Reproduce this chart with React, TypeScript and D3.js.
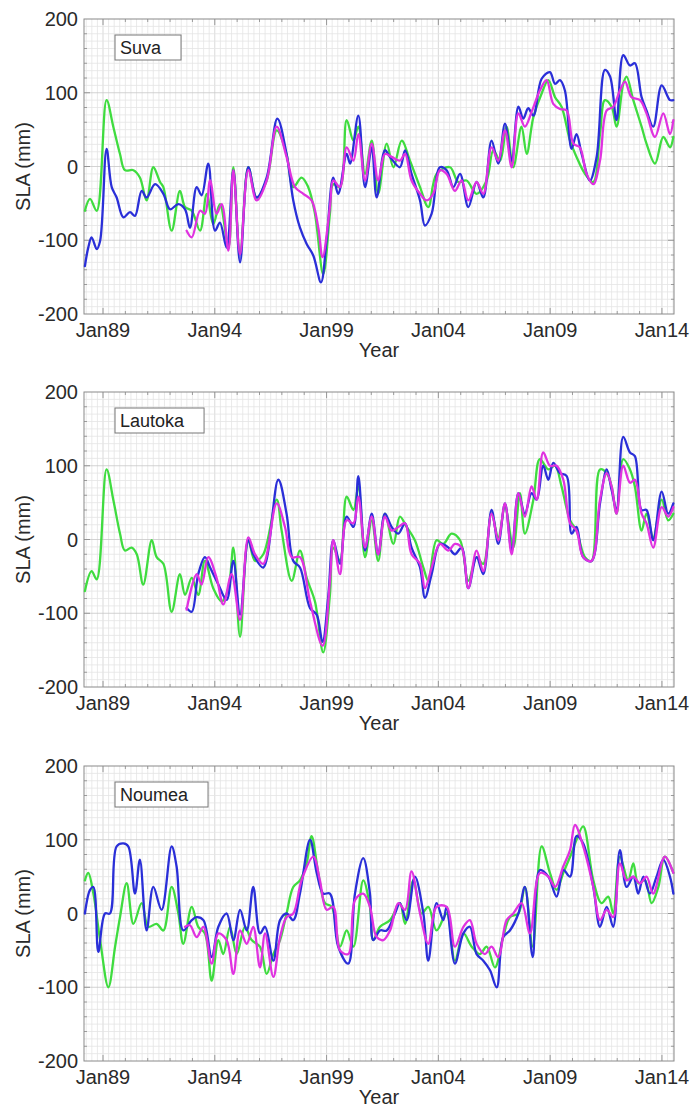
import * as d3 from 'd3';

type Pt = [number, number];

// station names and axis labels
const stations = ['Suva', 'Lautoka', 'Noumea'];
const yearTicks = [1989, 1994, 1999, 2004, 2009, 2014];
const yearLabels = ['Jan89', 'Jan94', 'Jan99', 'Jan04', 'Jan09', 'Jan14'];
const slaTicks = [-200, -100, 0, 100, 200];

// Suva
const suvaGreen: Pt[] = [
  [1988.19, -60], [1988.42, -44], [1988.72, -60], [1989.16, 90], [1989.46, 54], [1989.76, 17], [1989.98, -5],
  [1990.36, -5], [1990.65, -15], [1990.95, -46], [1991.25, -1], [1991.55, -21], [1991.7, -28], [1992.07, -87],
  [1992.44, -33], [1992.67, -55], [1992.97, -60], [1993.34, -87], [1993.64, -37], [1993.93, -78], [1994.23, -51],
  [1994.61, -110], [1994.83, -1], [1995.13, -119], [1995.5, -1], [1995.87, -42], [1996.32, -19], [1996.77, 49],
  [1997.21, 17], [1997.51, -28], [1997.88, -15], [1998.18, -28], [1998.48, -64], [1998.85, -146], [1999.15, -64],
  [1999.3, -24], [1999.6, -28], [1999.9, 63], [2000.2, 35], [2000.42, 54], [2000.72, -10], [2001.02, 35],
  [2001.31, -37], [2001.69, 31], [2001.99, -1], [2002.36, 35], [2002.73, 8], [2003.18, -28], [2003.55, -55],
  [2003.92, -10], [2004.52, -1], [2004.89, -21], [2005.26, -19], [2005.71, -37], [2006.16, -19], [2006.46, 22],
  [2006.76, 8], [2007.05, 54], [2007.35, -1], [2007.72, 54], [2007.95, 17], [2008.25, 67], [2008.62, 99],
  [2008.92, 117], [2009.22, 94], [2009.51, 81], [2009.89, 35], [2010.18, 13], [2010.56, -10], [2010.93, -21],
  [2011.23, 44], [2011.45, 90], [2011.75, 81], [2011.97, 54], [2012.27, 112], [2012.42, 122], [2012.72, 90],
  [2013.09, 54], [2013.31, 31], [2013.69, 4], [2014.06, 40], [2014.36, 26], [2014.51, 40],
];
const suvaBlue: Pt[] = [
  [1988.19, -135], [1988.34, -110], [1988.49, -96], [1988.72, -112], [1988.87, -101], [1989.16, 24], [1989.39, -28],
  [1989.61, -42], [1989.91, -69], [1990.21, -62], [1990.43, -67], [1990.73, -33], [1990.95, -42], [1991.33, -24],
  [1991.7, -37], [1992.0, -58], [1992.37, -51], [1992.67, -58], [1992.89, -83], [1993.19, -28], [1993.41, -39],
  [1993.71, 4], [1994.01, -87], [1994.23, -76], [1994.53, -110], [1994.83, -5], [1995.13, -130], [1995.5, -1],
  [1995.87, -42], [1996.32, -15], [1996.8, 65], [1997.21, 17], [1997.51, -46], [1997.81, -83], [1998.11, -105],
  [1998.41, -121], [1998.75, -157], [1999.0, -100], [1999.3, -15], [1999.52, -37], [1999.9, 17], [2000.05, 4],
  [2000.42, 69], [2000.72, -28], [2001.02, 26], [2001.24, -42], [2001.61, 22], [2001.84, 13], [2002.28, -1],
  [2002.51, 22], [2002.8, -10], [2003.18, -46], [2003.4, -80], [2003.7, -64], [2004.07, -1], [2004.37, -5],
  [2004.67, -28], [2004.97, -10], [2005.34, -55], [2005.71, -21], [2006.01, -42], [2006.38, 35], [2006.68, 4],
  [2006.98, 58], [2007.28, 8], [2007.58, 81], [2007.8, 65], [2008.02, 79], [2008.25, 69], [2008.62, 119],
  [2008.99, 128], [2009.22, 112], [2009.44, 117], [2009.66, 103], [2009.96, 24], [2010.18, 44], [2010.41, 17],
  [2010.78, -19], [2011.08, 13], [2011.45, 131], [2011.68, 122], [2011.97, 63], [2012.27, 151], [2012.57, 137],
  [2012.79, 140], [2013.09, 94], [2013.31, 76], [2013.61, 54], [2013.99, 110], [2014.36, 90], [2014.51, 90],
];
const suvaMagenta: Pt[] = [
  [1992.74, -87], [1992.97, -96], [1993.34, -60], [1993.56, -64], [1993.79, -19], [1994.08, -64], [1994.31, -51],
  [1994.61, -114], [1994.83, -5], [1995.13, -119], [1995.5, -5], [1995.87, -46], [1996.32, -19], [1996.77, 54],
  [1997.21, 13], [1997.59, -28], [1997.96, -37], [1998.33, -46], [1998.63, -83], [1998.82, -123], [1999.15, -55],
  [1999.3, -19], [1999.6, -28], [1999.9, 26], [2000.2, 8], [2000.42, 44], [2000.72, -19], [2001.02, 31],
  [2001.31, -19], [2001.61, 17], [2001.91, 13], [2002.28, 8], [2002.51, 17], [2002.8, -19], [2003.18, -37],
  [2003.48, -46], [2003.77, -37], [2004.07, -5], [2004.37, -10], [2004.74, -33], [2005.04, -19], [2005.34, -46],
  [2005.71, -21], [2006.01, -37], [2006.38, 26], [2006.68, 8], [2006.98, 49], [2007.28, -1], [2007.58, 72],
  [2007.87, 54], [2008.17, 74], [2008.54, 103], [2008.84, 117], [2009.14, 85], [2009.44, 78], [2009.74, 76],
  [2010.04, 31], [2010.33, 26], [2010.63, -10], [2010.93, -24], [2011.23, 8], [2011.53, 76], [2011.82, 81],
  [2012.12, 103], [2012.35, 115], [2012.64, 94], [2013.02, 90], [2013.31, 72], [2013.69, 40], [2014.06, 72],
  [2014.36, 44], [2014.51, 63],
];

// Lautoka
const lautokaGreen: Pt[] = [
  [1988.19, -70], [1988.49, -43], [1988.72, -54], [1989.16, 95], [1989.46, 54], [1989.76, 8], [1989.98, -15],
  [1990.28, -11], [1990.51, -20], [1990.8, -61], [1991.18, -1], [1991.4, -24], [1991.7, -33], [1992.07, -98],
  [1992.44, -47], [1992.67, -75], [1992.97, -52], [1993.26, -75], [1993.56, -29], [1993.93, -66], [1994.31, -84],
  [1994.61, -66], [1994.83, -11], [1995.13, -132], [1995.5, -1], [1995.8, -29], [1996.17, -20], [1996.77, 54],
  [1996.99, 12], [1997.44, -56], [1997.81, -15], [1998.11, -52], [1998.48, -84], [1998.85, -153], [1999.15, -75],
  [1999.3, -11], [1999.6, -29], [1999.9, 58], [2000.2, 40], [2000.42, 72], [2000.72, -24], [2001.02, 26],
  [2001.31, -29], [2001.61, 35], [2001.99, -6], [2002.28, 31], [2002.58, 17], [2002.95, -1], [2003.33, -38],
  [2003.55, -56], [2003.92, -1], [2004.22, -6], [2004.59, 8], [2004.97, -1], [2005.34, -56], [2005.71, -24],
  [2006.01, -33], [2006.38, 35], [2006.68, 3], [2006.98, 44], [2007.35, -11], [2007.65, 63], [2007.87, 8],
  [2008.25, 54], [2008.54, 109], [2008.92, 95], [2009.22, 100], [2009.51, 72], [2009.89, 26], [2010.18, 12],
  [2010.56, -24], [2010.85, -29], [2011.23, 95], [2011.53, 90], [2011.75, 72], [2011.97, 35], [2012.27, 109],
  [2012.57, 95], [2012.79, 72], [2013.09, 12], [2013.31, 35], [2013.61, 3], [2013.99, 54], [2014.28, 26],
  [2014.51, 35],
];
const lautokaBlue: Pt[] = [
  [1992.74, -93], [1992.97, -98], [1993.26, -47], [1993.56, -24], [1993.79, -38], [1994.16, -61], [1994.53, -82],
  [1994.83, -29], [1995.13, -102], [1995.5, -1], [1995.72, -20], [1996.17, -38], [1996.84, 81], [1997.21, 35],
  [1997.51, -29], [1997.81, -38], [1998.26, -93], [1998.56, -102], [1998.82, -139], [1999.08, -75], [1999.3, -1],
  [1999.6, -33], [1999.9, 31], [2000.2, 17], [2000.42, 86], [2000.72, -15], [2001.02, 35], [2001.31, -20],
  [2001.61, 35], [2001.91, 17], [2002.21, 8], [2002.51, 22], [2002.8, -11], [2003.18, -38], [2003.4, -79],
  [2003.7, -47], [2004.07, -6], [2004.45, -11], [2004.74, -20], [2005.04, -11], [2005.34, -66], [2005.71, -24],
  [2006.01, -47], [2006.38, 40], [2006.68, -6], [2006.98, 49], [2007.28, -15], [2007.58, 63], [2007.87, 35],
  [2008.17, 63], [2008.4, 54], [2008.69, 100], [2008.92, 81], [2009.14, 104], [2009.44, 90], [2009.74, 86],
  [2009.96, 8], [2010.18, 17], [2010.48, -24], [2010.85, -29], [2011.23, 49], [2011.53, 95], [2011.75, 67],
  [2011.97, 40], [2012.27, 139], [2012.57, 118], [2012.79, 113], [2013.09, 40], [2013.31, 40], [2013.61, -1],
  [2013.99, 65], [2014.28, 35], [2014.51, 49],
];
const lautokaMagenta: Pt[] = [
  [1992.74, -95], [1993.19, -47], [1993.41, -61], [1993.71, -24], [1994.08, -52], [1994.38, -88], [1994.75, -47],
  [1995.13, -109], [1995.5, 3], [1995.8, -20], [1996.17, -33], [1996.77, 49], [1997.14, 17], [1997.44, -24],
  [1997.81, -24], [1998.26, -84], [1998.82, -144], [1999.15, -56], [1999.3, -1], [1999.6, -47], [1999.9, 26],
  [2000.2, 22], [2000.42, 58], [2000.72, -11], [2001.02, 31], [2001.31, -20], [2001.61, 31], [2001.91, 12],
  [2002.21, 17], [2002.51, 22], [2002.8, -20], [2003.18, -33], [2003.4, -66], [2003.7, -38], [2004.07, -6],
  [2004.45, -15], [2004.74, -6], [2005.04, -11], [2005.34, -66], [2005.71, -15], [2006.01, -43], [2006.38, 35],
  [2006.68, -1], [2006.98, 49], [2007.28, -20], [2007.58, 63], [2007.87, 31], [2008.17, 72], [2008.4, 54],
  [2008.69, 118], [2008.99, 100], [2009.29, 100], [2009.59, 81], [2009.89, 22], [2010.18, 12], [2010.48, -24],
  [2010.85, -29], [2011.23, 54], [2011.53, 90], [2011.75, 72], [2011.97, 35], [2012.27, 100], [2012.57, 77],
  [2012.79, 81], [2013.09, 35], [2013.31, 22], [2013.61, -11], [2013.99, 44], [2014.28, 31], [2014.51, 44],
];

// Noumea
const noumeaGreen: Pt[] = [
  [1988.19, 45], [1988.34, 55], [1988.57, 27], [1988.87, -36], [1989.24, -100], [1989.54, -45], [1989.76, -5],
  [1990.06, 41], [1990.36, -14], [1990.73, 14], [1991.03, -18], [1991.4, -14], [1991.7, -23], [1992.07, 36],
  [1992.37, 0], [1992.59, -41], [1992.97, 9], [1993.26, -18], [1993.56, -27], [1993.86, -91], [1994.16, -36],
  [1994.38, -55], [1994.68, -18], [1994.98, -55], [1995.35, -18], [1995.65, -36], [1996.02, -45], [1996.32, -82],
  [1996.62, -55], [1996.92, -36], [1997.21, 0], [1997.51, 36], [1997.81, 45], [1998.11, 68], [1998.33, 105],
  [1998.63, 55], [1998.93, 14], [1999.23, 9], [1999.6, -45], [1999.9, -23], [2000.2, -45], [2000.64, 45],
  [2000.94, 9], [2001.09, -36], [2001.39, -18], [2001.84, -9], [2002.28, 14], [2002.51, -14], [2002.88, 45],
  [2003.25, 0], [2003.55, 9], [2003.92, -23], [2004.37, 0], [2004.74, -64], [2005.12, -27], [2005.49, -45],
  [2005.86, -55], [2006.16, -45], [2006.53, -73], [2006.9, -32], [2007.2, -5], [2007.58, 0], [2007.87, 36],
  [2008.22, -45], [2008.62, 91], [2008.99, 55], [2009.29, 32], [2009.59, 55], [2009.96, 82], [2010.18, 100],
  [2010.48, 118], [2010.93, 45], [2011.3, 14], [2011.6, 23], [2011.82, 0], [2012.12, 77], [2012.49, 45],
  [2012.72, 68], [2012.94, 41], [2013.24, 45], [2013.54, 14], [2013.84, 36], [2014.13, 77], [2014.51, 55],
];
const noumeaBlue: Pt[] = [
  [1988.19, 0], [1988.42, 32], [1988.57, 36], [1988.79, -52], [1989.09, 0], [1989.31, 0], [1989.61, 91],
  [1989.91, 95], [1990.13, 91], [1990.43, 27], [1990.65, 73], [1990.95, -23], [1991.25, 36], [1991.62, 5],
  [1992.07, 91], [1992.29, 64], [1992.59, -23], [1992.97, -9], [1993.19, -5], [1993.49, -9], [1993.86, -59],
  [1994.16, -18], [1994.53, 0], [1994.83, -36], [1995.13, 5], [1995.43, -23], [1995.72, 36], [1996.02, -27],
  [1996.25, -18], [1996.62, -64], [1996.92, -9], [1997.21, 0], [1997.51, -9], [1997.81, 27], [1998.26, 100],
  [1998.56, 55], [1998.85, 27], [1999.15, 27], [1999.52, -45], [1999.97, -68], [2000.27, 27], [2000.64, 75],
  [2000.94, 27], [2001.09, -36], [2001.39, -23], [2001.69, -23], [2002.06, 0], [2002.28, 14], [2002.58, -9],
  [2002.95, 50], [2003.33, 0], [2003.55, -64], [2003.92, 14], [2004.22, -9], [2004.37, 9], [2004.74, -68],
  [2005.12, -27], [2005.41, -18], [2005.71, -55], [2006.01, -64], [2006.31, -77], [2006.61, -100], [2006.9, -32],
  [2007.2, -23], [2007.58, 0], [2007.87, 36], [2008.22, -59], [2008.54, 59], [2008.92, 50], [2009.29, 23],
  [2009.59, 59], [2009.89, 50], [2010.18, 105], [2010.48, 95], [2010.93, 36], [2011.23, -18], [2011.53, 9],
  [2011.82, -18], [2012.12, 86], [2012.42, 36], [2012.72, 50], [2012.94, 27], [2013.17, 50], [2013.46, 27],
  [2013.76, 50], [2014.06, 73], [2014.36, 50], [2014.51, 27],
];
const noumeaMagenta: Pt[] = [
  [1992.67, -18], [1992.89, -16], [1993.19, -32], [1993.49, -18], [1993.86, -68], [1994.16, -27], [1994.53, -36],
  [1994.83, -82], [1995.13, -23], [1995.43, -41], [1995.72, -18], [1996.02, -73], [1996.25, -27], [1996.62, -86],
  [1996.92, -32], [1997.21, -5], [1997.51, 0], [1997.88, 45], [1998.41, 77], [1998.7, 45], [1999.0, 5],
  [1999.3, 9], [1999.6, -50], [1999.97, -55], [2000.27, 18], [2000.64, 27], [2000.94, 9], [2001.24, -32],
  [2001.54, -36], [2001.84, -23], [2002.21, 14], [2002.51, 5], [2002.8, 57], [2003.18, 0], [2003.55, -41],
  [2003.92, 9], [2004.37, 9], [2004.74, -45], [2005.12, -18], [2005.41, -9], [2005.71, -41], [2006.08, -55],
  [2006.38, -45], [2006.68, -59], [2007.05, -9], [2007.35, 0], [2007.72, 14], [2008.1, -27], [2008.54, 55],
  [2008.92, 50], [2009.22, 36], [2009.59, 64], [2009.89, 86], [2010.11, 120], [2010.48, 91], [2010.93, 36],
  [2011.23, -9], [2011.53, 5], [2011.82, -5], [2012.12, 68], [2012.42, 45], [2012.72, 50], [2013.02, 41],
  [2013.31, 50], [2013.61, 27], [2014.13, 77], [2014.51, 55],
];

const seriesByStation: Pt[][][] = [
  [suvaGreen, suvaBlue, suvaMagenta],
  [lautokaGreen, lautokaBlue, lautokaMagenta],
  [noumeaGreen, noumeaBlue, noumeaMagenta],
];
const seriesColors = ['#3fdc3f', '#2a2fd8', '#e032e0'];

const W = 694;
const H = 1109;
const left = 84;
const right = 674;
const plotH = 295;
const panelTops = [19, 392, 766];
const FONT = '"Liberation Sans", Arial, Helvetica, sans-serif';

const x = d3.scaleLinear().domain([1988.15, 2014.54]).range([left, right]);

function textWidth(s: string, size: number) {
  const ctx = document.createElement('canvas').getContext('2d');
  if (!ctx) return s.length * size * 0.55;
  ctx.font = `${size}px ${FONT}`;
  return ctx.measureText(s).width;
}

function Panel({ top, name, series }: { top: number; name: string; series: Pt[][] }) {
  const bottom = top + plotH;
  const y = d3.scaleLinear().domain([-200, 200]).range([bottom, top]);
  const line = d3.line<Pt>().x(d => x(d[0])).y(d => y(d[1])).curve(d3.curveCatmullRom.alpha(0.5));

  const qStart = Math.ceil(x.domain()[0] * 4) / 4;
  const quarters = d3.range(qStart, x.domain()[1], 0.25);
  const years = d3.range(Math.ceil(x.domain()[0]), x.domain()[1], 1);
  const tens = d3.range(-190, 200, 10);
  const twenties = d3.range(-180, 200, 20);
  const boxW = textWidth(name, 18) + 25;

  return (
    <g>
      <rect x={left} y={top} width={right - left} height={plotH} fill="#fff" />
      {quarters.map(q => (
        <line key={'q' + q} x1={x(q)} x2={x(q)} y1={top} y2={bottom}
          stroke={Math.abs(q - Math.round(q)) < 0.01 && Math.round(q) % 5 === 4 ? '#cfcfcf' : '#e4e4e4'} strokeWidth={0.8} />
      ))}
      {tens.map(t => (
        <line key={'t' + t} x1={left} x2={right} y1={y(t)} y2={y(t)}
          stroke={t % 100 === 0 ? '#c8c8c8' : '#e4e4e4'} strokeWidth={0.8} />
      ))}
      {/* ticks inside the box */}
      {years.map(yr => {
        const len = yearTicks.includes(yr) ? 6 : 3;
        return (
          <g key={'yt' + yr} stroke="#888" strokeWidth={0.8}>
            <line x1={x(yr)} x2={x(yr)} y1={bottom} y2={bottom - len} />
            <line x1={x(yr)} x2={x(yr)} y1={top} y2={top + len} />
          </g>
        );
      })}
      {twenties.map(t => {
        const len = t % 100 === 0 ? 6 : 3;
        return (
          <g key={'st' + t} stroke="#888" strokeWidth={0.8}>
            <line x1={left} x2={left + len} y1={y(t)} y2={y(t)} />
            <line x1={right} x2={right - len} y1={y(t)} y2={y(t)} />
          </g>
        );
      })}
      <rect x={left} y={top} width={right - left} height={plotH} fill="none" stroke="#8a8a8a" strokeWidth={1} />

      {series.map((s, i) => (
        <path key={'s' + i} d={line(s) || ''} fill="none" stroke={seriesColors[i]}
          strokeWidth={2.3} strokeLinejoin="round" strokeLinecap="round" />
      ))}

      <rect x={115} y={top + 16} width={boxW} height={25} fill="#fff" stroke="#777" strokeWidth={1} />
      <text x={120} y={top + 35} fontSize={18} fill="#222" fontFamily={FONT}>{name}</text>

      {slaTicks.map(t => (
        <text key={'yl' + t} x={78} y={y(t) + 7} textAnchor="end" fontSize={20} fill="#2a2a2a" fontFamily={FONT}>{t}</text>
      ))}
      {yearTicks.map((yr, i) => (
        <text key={'xl' + yr} x={x(yr)} y={bottom + 23} textAnchor="middle" fontSize={20} fill="#2a2a2a" fontFamily={FONT}>
          {yearLabels[i]}
        </text>
      ))}
      <text x={(left + right) / 2} y={bottom + 43} textAnchor="middle" fontSize={20} fill="#2a2a2a" fontFamily={FONT}>Year</text>
      <text transform={`translate(30, ${(top + bottom) / 2}) rotate(-90)`} textAnchor="middle" fontSize={20}
        fill="#2a2a2a" fontFamily={FONT}>SLA (mm)</text>
    </g>
  );
}

export default function App() {
  return (
    <svg width={W} height={H} style={{ position: 'absolute', left: 0, top: 0, background: '#fff' }}>
      <rect width={W} height={H} fill="#fff" />
      {stations.map((name, i) => (
        <Panel key={name} top={panelTops[i]} name={name} series={seriesByStation[i]} />
      ))}
    </svg>
  );
}
